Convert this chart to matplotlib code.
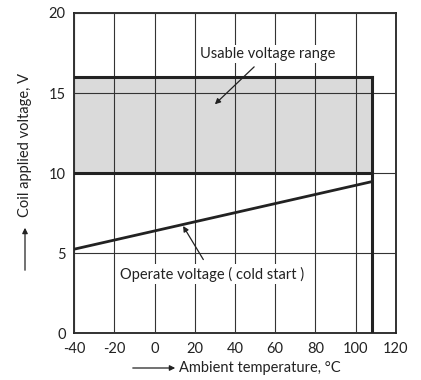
import matplotlib
matplotlib.use("Agg")
import matplotlib.pyplot as plt

plt.rcParams['font.family'] = ['Lato', 'DejaVu Sans']

# Data
temp_range = [-40, 108]          # usable temperature span, °C
usable_voltage = [10, 16]        # usable voltage band, V
operate_temp = [-40, 108]        # °C
operate_voltage = [5.25, 9.47]   # V
x_ticks = [-40, -20, 0, 20, 40, 60, 80, 100, 120]
y_ticks = [0, 5, 10, 15, 20]

ink = '#222222'
fs = 10.5
fig = plt.figure(figsize=(4.21, 3.80), dpi=100)
ax = fig.add_axes([0.1758, 0.1229, 0.7648, 0.8429])
ax.set_xlim(-40, 120)
ax.set_ylim(0, 20)
ax.set_xticks(x_ticks)
ax.set_yticks(y_ticks)
ax.set_xticklabels([str(v) for v in x_ticks])
ax.tick_params(length=0, labelsize=fs, colors=ink, pad=6)
ax.grid(True, color='#333333', linewidth=0.8, zorder=1)
ax.set_axisbelow(False)
for s in ax.spines.values():
    s.set_linewidth(1.3)
    s.set_color(ink)

# usable band
ax.fill_between(temp_range, usable_voltage[0], usable_voltage[1],
                color='#dadada', zorder=0.5, linewidth=0)
ax.plot([temp_range[0], temp_range[1]], [usable_voltage[1], usable_voltage[1]],
        color=ink, lw=2.2, zorder=3, solid_capstyle='projecting')
ax.plot([temp_range[0], temp_range[1]], [usable_voltage[0], usable_voltage[0]],
        color=ink, lw=2.2, zorder=3, solid_capstyle='projecting')
ax.plot([temp_range[1], temp_range[1]], [0, usable_voltage[1]],
        color=ink, lw=2.2, zorder=3, solid_capstyle='projecting')

# operate voltage
ax.plot(operate_temp, operate_voltage, color=ink, lw=2.0, zorder=3)

ax.annotate('Usable voltage range', xy=(30, 14.3), xytext=(56.3, 17.45),
            ha='center', va='center', fontsize=fs, color=ink, zorder=4,
            bbox=dict(boxstyle='square,pad=0.15', fc='white', ec='none'),
            arrowprops=dict(arrowstyle='-|>', color=ink, lw=0.9,
                            mutation_scale=8, shrinkA=4, shrinkB=0))
ax.annotate('Operate voltage ( cold start )', xy=(14.2, 6.7), xytext=(28.6, 3.7),
            ha='center', va='center', fontsize=fs, color=ink, zorder=4,
            bbox=dict(boxstyle='square,pad=0.15', fc='white', ec='none'),
            arrowprops=dict(arrowstyle='-|>', color=ink, lw=0.9,
                            mutation_scale=8, shrinkA=4, shrinkB=0))

# axis labels with arrows (figure coordinates)
fig.text(25/421, 1-145/380, 'Coil applied voltage, V', rotation=90,
         ha='center', va='center', fontsize=fs, color=ink)
fig.add_artist(matplotlib.patches.FancyArrowPatch(
    (25/421, 1-273/380), (25/421, 1-225/380), transform=fig.transFigure,
    arrowstyle='-|>', mutation_scale=8, color=ink, lw=0.9))
fig.text(260/421, 1-368/380, 'Ambient temperature, °C',
         ha='center', va='center', fontsize=fs, color=ink)
fig.add_artist(matplotlib.patches.FancyArrowPatch(
    (130/421, 1-368/380), (178/421, 1-368/380), transform=fig.transFigure,
    arrowstyle='-|>', mutation_scale=8, color=ink, lw=0.9))

fig.savefig('out.png', dpi=100, facecolor='white')
